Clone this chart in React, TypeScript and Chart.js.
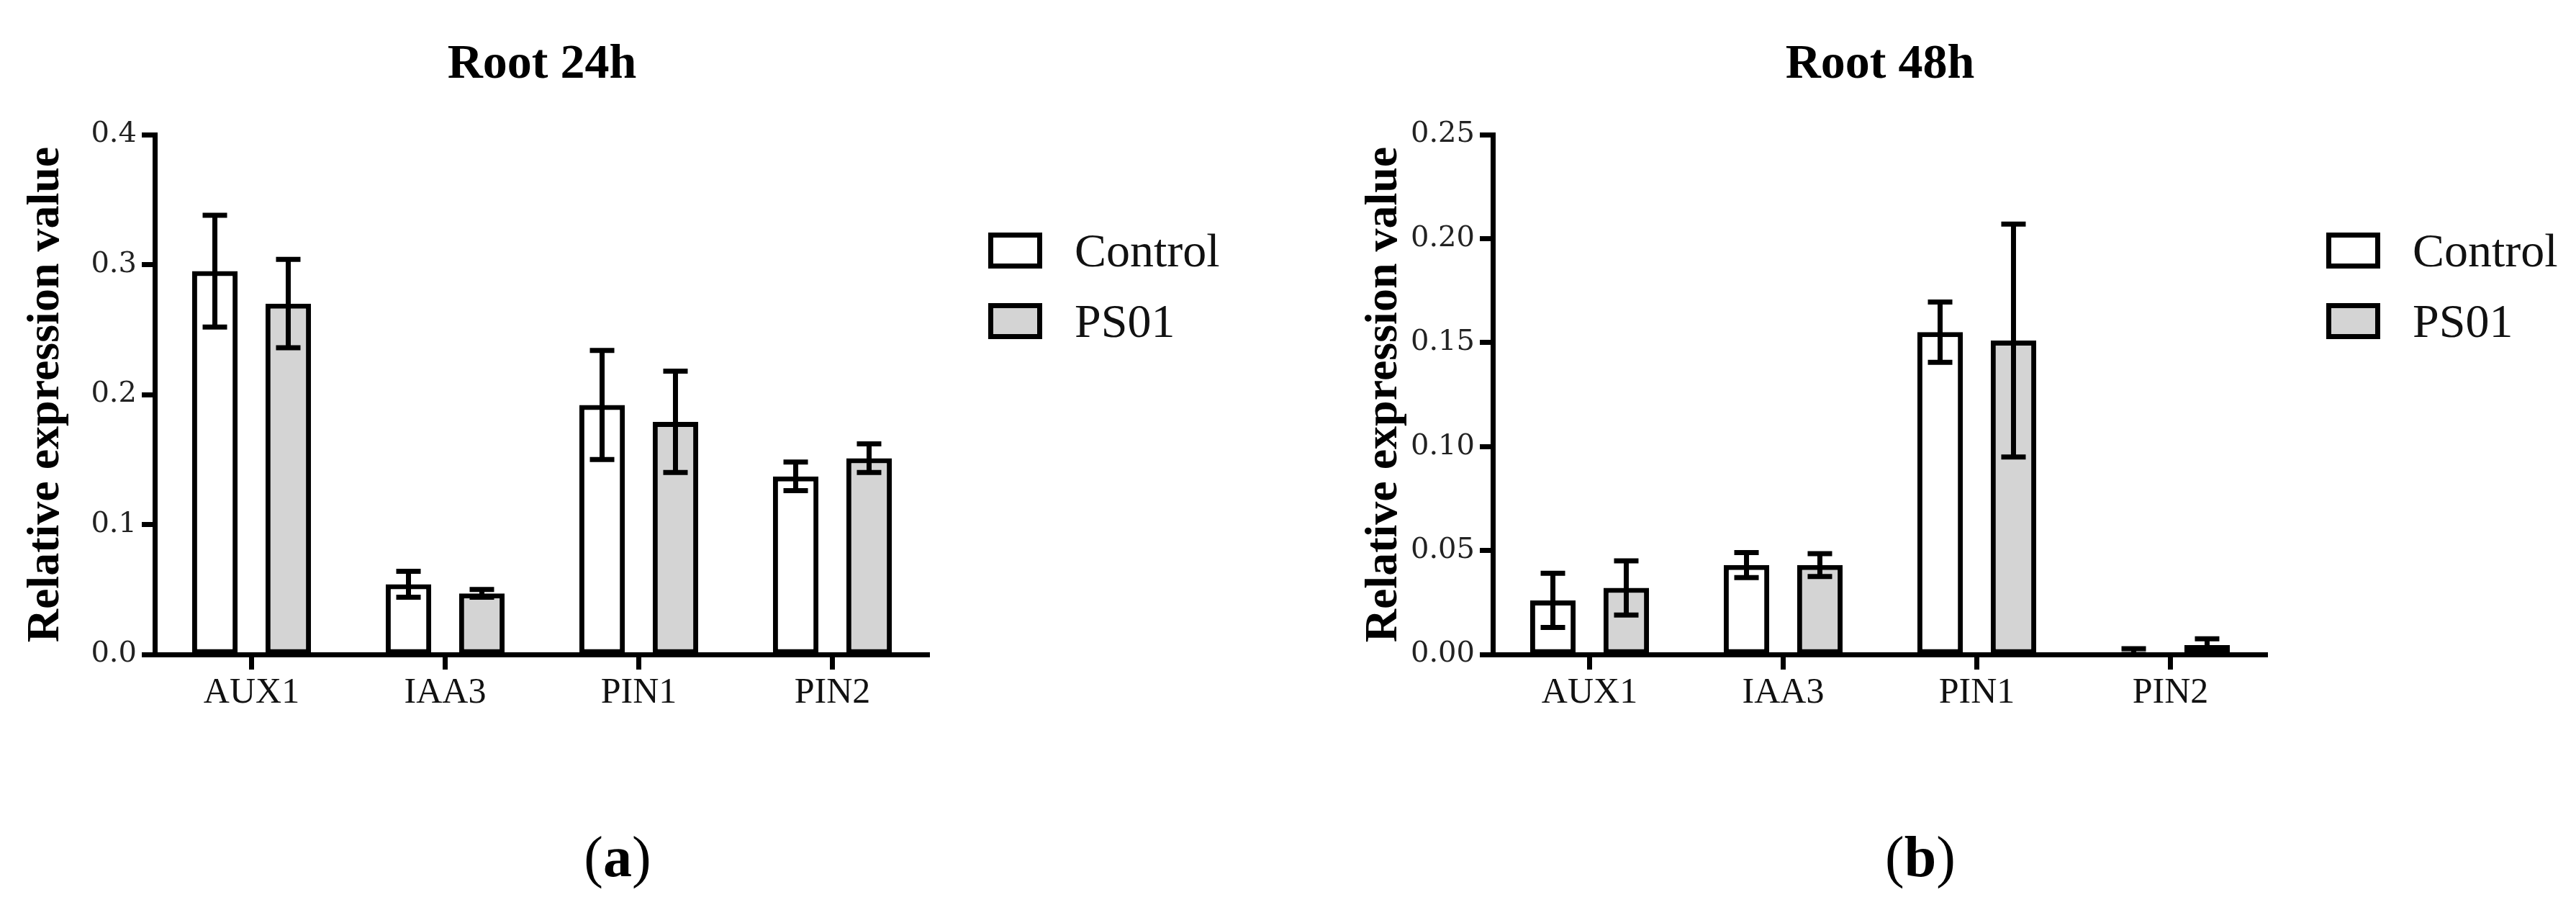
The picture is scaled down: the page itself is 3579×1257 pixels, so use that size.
import React, { useEffect, useRef } from 'react';
import { Chart, registerables } from 'chart.js';

Chart.register(...registerables);

// ---- data ----
const genes = ['AUX1', 'IAA3', 'PIN1', 'PIN2'];
const seriesNames = ['Control', 'PS01'];

const control24h = [0.295, 0.054, 0.192, 0.137];
const control24hErr = [0.043, 0.01, 0.042, 0.011];
const ps01_24h = [0.27, 0.047, 0.179, 0.151];
const ps01_24hErr = [0.034, 0.003, 0.039, 0.011];

const control48h = [0.026, 0.043, 0.155, 0.001];
const control48hErr = [0.013, 0.006, 0.0145, 0.0018];
const ps01_48h = [0.032, 0.043, 0.151, 0.0045];
const ps01_48hErr = [0.013, 0.0055, 0.056, 0.003];

const yTicks24h = [0, 0.1, 0.2, 0.3, 0.4];
const yTicks48h = [0, 0.05, 0.1, 0.15, 0.2, 0.25];

const seriesFill = ['#ffffff', '#d4d4d4'];

const SERIF = "'Liberation Serif', 'Times New Roman', serif";

// ---- plugins ----
const errorBarPlugin = {
  id: 'errorBars',
  afterDatasetsDraw(chart: any) {
    const { ctx } = chart;
    const yScale = chart.scales.y;
    ctx.save();
    ctx.strokeStyle = '#000';
    ctx.lineWidth = 7;
    ctx.lineCap = 'butt';
    chart.data.datasets.forEach((ds: any, i: number) => {
      const meta = chart.getDatasetMeta(i);
      meta.data.forEach((el: any, j: number) => {
        const v = ds.data[j];
        const e = ds.errors[j];
        const x = el.x;
        const yt = yScale.getPixelForValue(v + e);
        const yb = yScale.getPixelForValue(Math.max(0, v - e));
        const hw = 17;
        ctx.beginPath();
        ctx.moveTo(x, yt);
        ctx.lineTo(x, yb);
        ctx.moveTo(x - hw, yt);
        ctx.lineTo(x + hw, yt);
        ctx.moveTo(x - hw, yb);
        ctx.lineTo(x + hw, yb);
        ctx.stroke();
      });
    });
    ctx.restore();
  },
};

const sideLegendPlugin = {
  id: 'sideLegend',
  afterDraw(chart: any) {
    const { ctx, chartArea } = chart;
    const x0 = chartArea.right + 82;
    const boxW = 75;
    const boxH = 50;
    const lw = 7;
    ctx.save();
    chart.data.datasets.forEach((ds: any, i: number) => {
      const top = chartArea.top + 136 + i * 98;
      ctx.fillStyle = ds.backgroundColor;
      ctx.fillRect(x0, top, boxW, boxH);
      ctx.strokeStyle = '#000';
      ctx.lineWidth = lw;
      ctx.strokeRect(x0 + lw / 2, top + lw / 2, boxW - lw, boxH - lw);
      ctx.fillStyle = '#111';
      ctx.font = `66px ${SERIF}`;
      ctx.textAlign = 'left';
      ctx.textBaseline = 'alphabetic';
      ctx.fillText(ds.label, x0 + boxW + 45, top + boxH / 2 + 22);
    });
    ctx.restore();
  },
};

type PanelProps = {
  left: number;
  width: number;
  title: string;
  control: number[];
  controlErr: number[];
  ps01: number[];
  ps01Err: number[];
  yTicks: number[];
  decimals: number;
};

const CANVAS_H = 1010;

function Panel(props: PanelProps) {
  const ref = useRef<HTMLCanvasElement | null>(null);

  useEffect(() => {
    if (!ref.current) return;
    const { title, control, controlErr, ps01, ps01Err, yTicks, decimals } = props;
    const common = {
      borderColor: '#000',
      borderWidth: 7,
      borderSkipped: false,
      categoryPercentage: 0.758,
      barPercentage: 0.62,
    };
    const chart = new Chart(ref.current, {
      type: 'bar',
      data: {
        labels: genes,
        datasets: [
          { label: seriesNames[0], data: control, errors: controlErr, backgroundColor: seriesFill[0], ...common } as any,
          { label: seriesNames[1], data: ps01, errors: ps01Err, backgroundColor: seriesFill[1], ...common } as any,
        ],
      },
      options: {
        animation: false,
        responsive: false,
        maintainAspectRatio: false,
        devicePixelRatio: 1,
        layout: { padding: { left: 0, top: 0, bottom: 0, right: props.width - 1291 } },
        plugins: {
          legend: { display: false },
          tooltip: { enabled: false },
          title: {
            display: true,
            text: title,
            fullSize: false,
            color: '#000',
            font: { family: SERIF, size: 68, weight: 'bold', lineHeight: 1.2 },
            padding: { top: 50, bottom: 55.4 },
          },
        },
        scales: {
          x: {
            type: 'category',
            offset: true,
            grid: {
              offset: false,
              drawOnChartArea: false,
              drawTicks: true,
              tickLength: 21,
              tickWidth: 7,
              tickColor: '#000',
            },
            border: { display: true, color: '#000', width: 7 },
            ticks: {
              color: '#111',
              font: { family: SERIF, size: 50 },
              padding: 3,
              maxRotation: 0,
              autoSkip: false,
            },
            afterFit: (s: any) => {
              s.height = CANVAS_H - 909;
            },
          },
          y: {
            type: 'linear',
            min: yTicks[0],
            max: yTicks[yTicks.length - 1],
            grid: {
              drawOnChartArea: false,
              drawTicks: true,
              tickLength: 18,
              tickWidth: 7,
              tickColor: '#000',
            },
            border: { display: true, color: '#000', width: 7 },
            ticks: {
              stepSize: yTicks[1] - yTicks[0],
              color: '#222',
              font: { family: "'DejaVu Serif', serif", size: 40 },
              padding: 7,
              callback: (v: any) => Number(v).toFixed(decimals),
            },
            title: {
              display: true,
              text: 'Relative expression value',
              color: '#000',
              font: { family: SERIF, size: 64, weight: 'bold', lineHeight: 1.2 },
              padding: { top: 26, bottom: 0 },
            },
            afterFit: (s: any) => {
              s.width = 215;
            },
          },
        },
      } as any,
      plugins: [errorBarPlugin, sideLegendPlugin],
    });
    return () => chart.destroy();
  }, []);

  return (
    <canvas
      ref={ref}
      width={props.width}
      height={CANVAS_H}
      style={{ position: 'absolute', left: props.left, top: 0, width: props.width, height: CANVAS_H }}
    />
  );
}

const panelLabelStyle = (x: number): React.CSSProperties => ({
  position: 'absolute',
  left: x,
  top: 1190,
  transform: 'translate(-50%, -50%)',
  fontFamily: SERIF,
  fontSize: 80,
  color: '#000',
  lineHeight: 1,
  whiteSpace: 'nowrap',
});

export default function App() {
  return (
    <div
      style={{
        position: 'absolute',
        left: 0,
        top: 0,
        width: 3579,
        height: 1257,
        background: '#fff',
        overflow: 'hidden',
      }}
    >
      <Panel
        left={0}
        width={1800}
        title="Root 24h"
        control={control24h}
        controlErr={control24hErr}
        ps01={ps01_24h}
        ps01Err={ps01_24hErr}
        yTicks={yTicks24h}
        decimals={1}
      />
      <Panel
        left={1859}
        width={1720}
        title="Root 48h"
        control={control48h}
        controlErr={control48hErr}
        ps01={ps01_48h}
        ps01Err={ps01_48hErr}
        yTicks={yTicks48h}
        decimals={2}
      />
      <div style={panelLabelStyle(858)}>
        (<b>a</b>)
      </div>
      <div style={panelLabelStyle(2668)}>
        (<b>b</b>)
      </div>
    </div>
  );
}
